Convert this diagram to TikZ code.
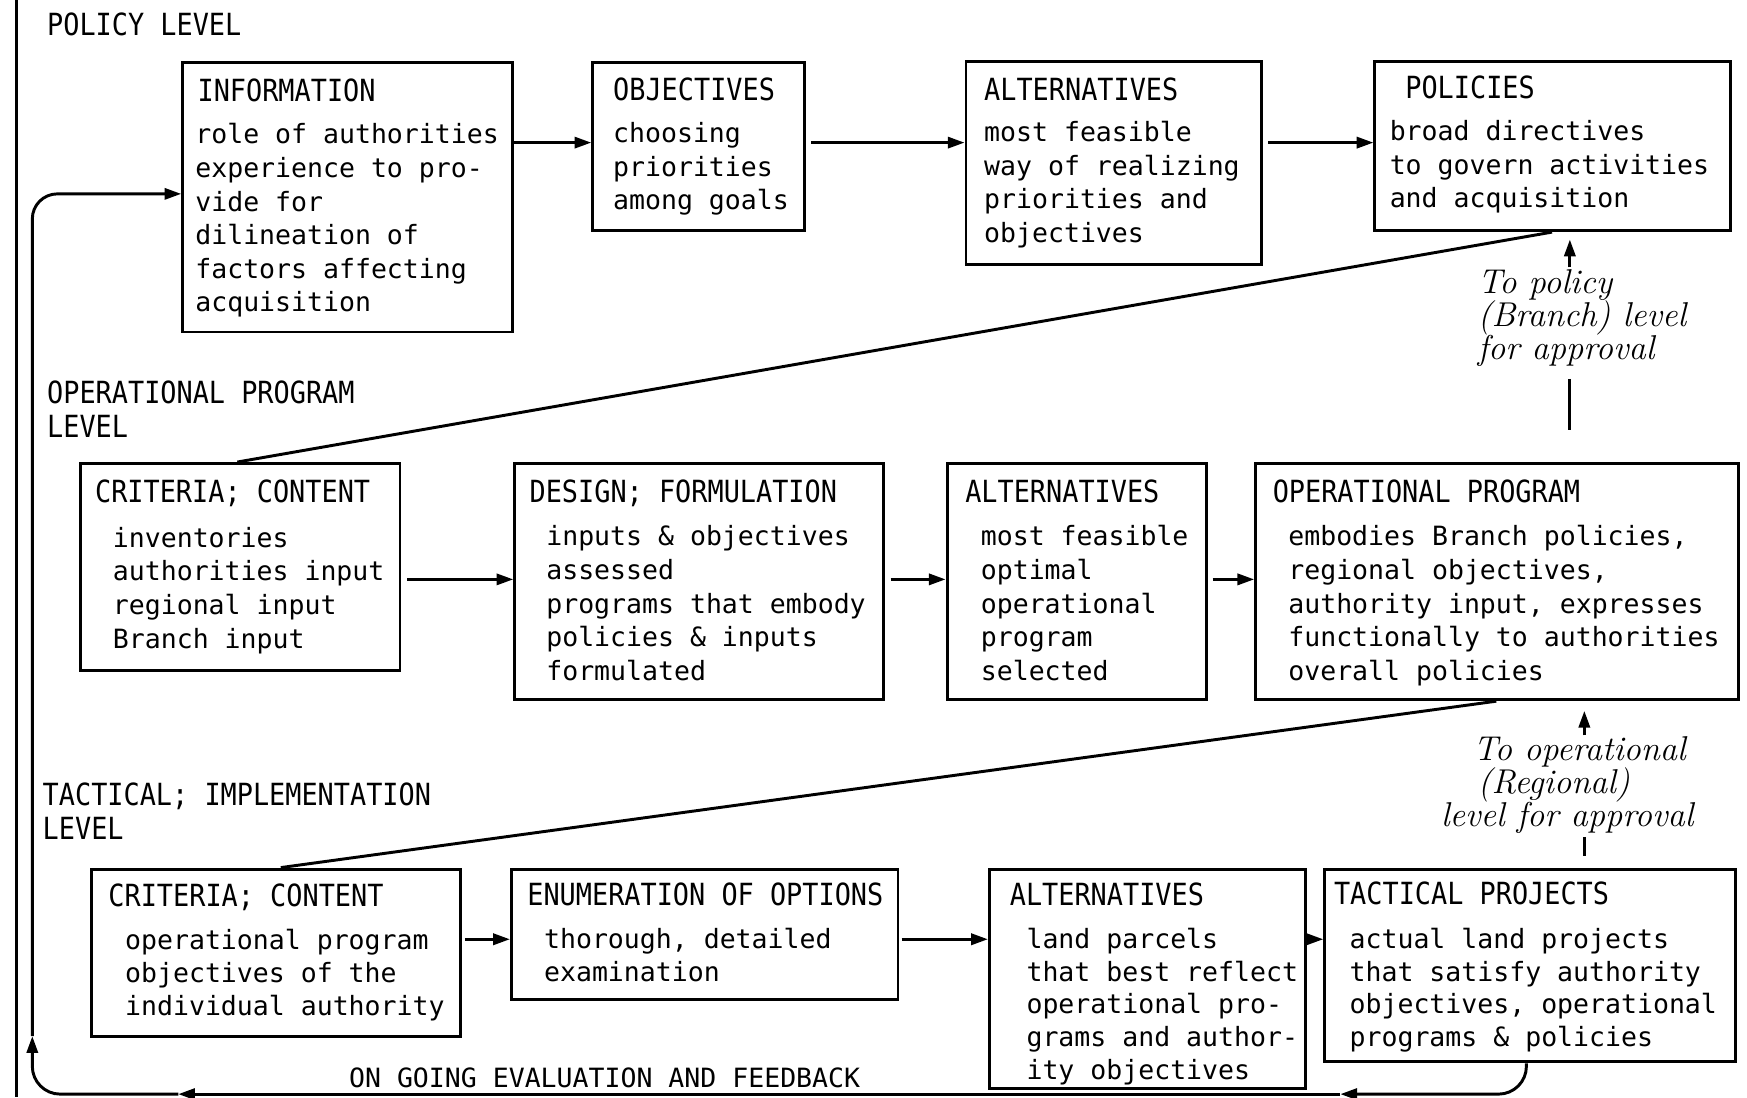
\documentclass[tikz,border=0pt]{standalone}
\usepackage{fontspec}
\usetikzlibrary{arrows.meta,fit}
\newfontfamily\bodyfont{DejaVu Sans Mono}
\newfontfamily\headfont[FakeStretch=0.88]{DejaVu Sans Mono}
\newcommand\lns[1]{\begin{tabular}[t]{@{}l@{}}#1\end{tabular}}
\tikzset{
  box/.style={draw, line width=1.5pt, inner sep=0pt},
  hd/.style={anchor=base west, inner sep=0pt, font=\headfont\fontsize{15.6pt}{17.36pt}\selectfont},
  bd/.style={anchor=base west, inner sep=0pt, font=\bodyfont\fontsize{13.55pt}{17.19pt}\selectfont},
  bdc/.style={anchor=base west, inner sep=0pt, font=\bodyfont\fontsize{13.55pt}{16.79pt}\selectfont},
  note/.style={anchor=base west, inner sep=0pt, font=\itshape\fontsize{17.6pt}{20pt}\selectfont},
  link/.style={line width=1.5pt},
  arr/.style={link, -{Triangle[length=0.3cm,width=0.2cm]}},
}
\begin{document}
\begin{tikzpicture}[x=0.02cm, y=-0.02cm]
\fill[white] (0,0) rectangle (1568,985);
\useasboundingbox (0,0) rectangle (1568,985);

% page rule on the left
\draw[link] (15,0) -- (15,985);

% ---------- policy level ----------
\node[hd] (lvlA) at (42,32) {POLICY LEVEL};

\node[box, fit={(164,56) (460,298)}] (info) {};
\node[hd] (infoH) at (177,91) {INFORMATION};
\node[bd] (infoT) at (175,129) {\lns{role of authorities\\experience to pro-\\vide for\\dilineation of\\factors affecting\\acquisition}};

\node[box, fit={(532,56) (722,207)}] (obj) {};
\node[hd] (objH) at (550,90) {OBJECTIVES};
\node[bd] (objT) at (550,128) {\lns{choosing\\priorities\\among goals}};

\node[box, fit={(867,55) (1132,237)}] (altA) {};
\node[hd] (altAH) at (883,90) {ALTERNATIVES};
\node[bd] (altAT) at (883,127) {\lns{most feasible\\way of realizing\\priorities and\\objectives}};

\node[box, fit={(1234,55) (1553,207)}] (pol) {};
\node[hd] (polH) at (1261,88) {POLICIES};
\node[bd] (polT) at (1247,126) {\lns{broad directives\\to govern activities\\and acquisition}};

\draw[arr] (info.east |- {0,128}) -- (obj.west |- {0,128});
\draw[arr, shorten <=0.1cm] (obj.east |- {0,128}) -- (altA.west |- {0,128});
\draw[arr, shorten <=0.1cm] (altA.east |- {0,128}) -- (pol.west |- {0,128});

% ---------- operational program level ----------
\node[hd] (lvlB) at (42,362) {\lns{OPERATIONAL PROGRAM\\LEVEL}};

\node[box, fit={(72,416) (359,602)}] (critB) {};
\node[hd] (critBH) at (85,451) {CRITERIA; CONTENT};
\node[bd] (critBT) at (101,491) {\lns{inventories\\authorities input\\regional input\\Branch input}};

\node[box, fit={(462,416) (793,628)}] (design) {};
\node[hd] (designH) at (475,451) {DESIGN; FORMULATION};
\node[bd] (designT) at (490,490) {\lns{inputs \& objectives\\assessed\\programs that embody\\policies \& inputs\\formulated}};

\node[box, fit={(850,416) (1083,628)}] (altB) {};
\node[hd] (altBH) at (866,451) {ALTERNATIVES};
\node[bd] (altBT) at (880,490) {\lns{most feasible\\optimal\\operational\\program\\selected}};

\node[box, fit={(1127,416) (1560,628)}] (oprog) {};
\node[hd] (oprogH) at (1142,451) {OPERATIONAL PROGRAM};
\node[bd] (oprogT) at (1156,490) {\lns{embodies Branch policies,\\regional objectives,\\authority input, expresses\\functionally to authorities\\overall policies}};

\draw[arr, shorten <=0.1cm] (critB.east |- {0,520}) -- (design.west |- {0,520});
\draw[arr, shorten <=0.1cm] (design.east |- {0,520}) -- (altB.west |- {0,520});
\draw[arr, shorten <=0.08cm] (altB.east |- {0,520}) -- (oprog.west |- {0,520});

% policies feed the operational criteria
\draw[link] (pol.south -| {1393,0}) -- (critB.north -| {213,0});

% approval by the policy level
\coordinate (apA) at (1409,240);
\draw[arr] (apA) -- (1409,215);
\node[note] (apAt1) at (1326,263) {To policy};
\node[note] (apAt2) at (1326,293) {(Branch) level};
\node[note] (apAt3) at (1326,323) {for approval};
\coordinate (apB1) at (1409,340);
\coordinate (apB2) at (1409,386);
\draw[link] (apB1) -- (apB2);

% ---------- tactical level ----------
\node[hd] (lvlC) at (38,723) {\lns{TACTICAL; IMPLEMENTATION\\LEVEL}};

\node[box, fit={(82,780) (413,930)}] (critC) {};
\node[hd] (critCH) at (97,814) {CRITERIA; CONTENT};
\node[bdc] (critCT) at (112,852) {\lns{operational program\\objectives of the\\individual authority}};

\node[box, fit={(459,780) (806,897)}] (enum) {};
\node[hd] (enumH) at (473,813) {ENUMERATION OF OPTIONS};
\node[bdc] (enumT) at (488,851) {\lns{thorough, detailed\\examination}};

\node[box, fit={(888,780) (1172,977)}] (altC) {};
\node[hd] (altCH) at (906,813) {ALTERNATIVES};
\node[bdc] (altCT) at (921,851) {\lns{land parcels\\that best reflect\\operational pro-\\grams and author-\\ity objectives}};

\node[box, fit={(1189,780) (1558,953)}] (tact) {};
\node[hd] (tactH) at (1197,812) {TACTICAL PROJECTS};
\node[bdc] (tactT) at (1211,851) {\lns{actual land projects\\that satisfy authority\\objectives, operational\\programs \& policies}};

\draw[arr, shorten <=0.06cm] (critC.east |- {0,843}) -- (enum.west |- {0,843});
\draw[arr, shorten <=0.04cm] (enum.east |- {0,843}) -- (altC.west |- {0,843});
\draw[arr, shorten <=0.04cm] (altC.east |- {0,843}) -- (tact.west |- {0,843});

% operational program feeds the tactical criteria
\draw[link] (oprog.south -| {1343,0}) -- (critC.north -| {252,0});

% approval by the operational level
\coordinate (apC) at (1422,660);
\draw[arr] (apC) -- (1422,638);
\node[note] (apCt1) at (1322,683) {To operational};
\node[note] (apCt2) at (1326,712) {(Regional)};
\node[note] (apCt3) at (1293,742) {level for approval};
\coordinate (apD1) at (1422,751);
\coordinate (apD2) at (1422,768);
\draw[link] (apD1) -- (apD2);

% ---------- ongoing evaluation and feedback loop ----------
\node[bd] (fbT) at (313,976) {ON GOING EVALUATION AND FEEDBACK};
\coordinate (fbA) at (1203,982);
\coordinate (fbB) at (160,982);
\coordinate (fbC) at (29,930);
\draw[arr, rounded corners=0.5cm] (tact.south -| {1370,0}) |- (fbA);
\draw[arr] (fbA) -- (fbB);
\draw[arr, rounded corners=0.5cm] (fbB) -| (fbC);
\draw[arr, rounded corners=0.45cm] (fbC) |- (info.west |- {0,174});
\end{tikzpicture}
\end{document}
